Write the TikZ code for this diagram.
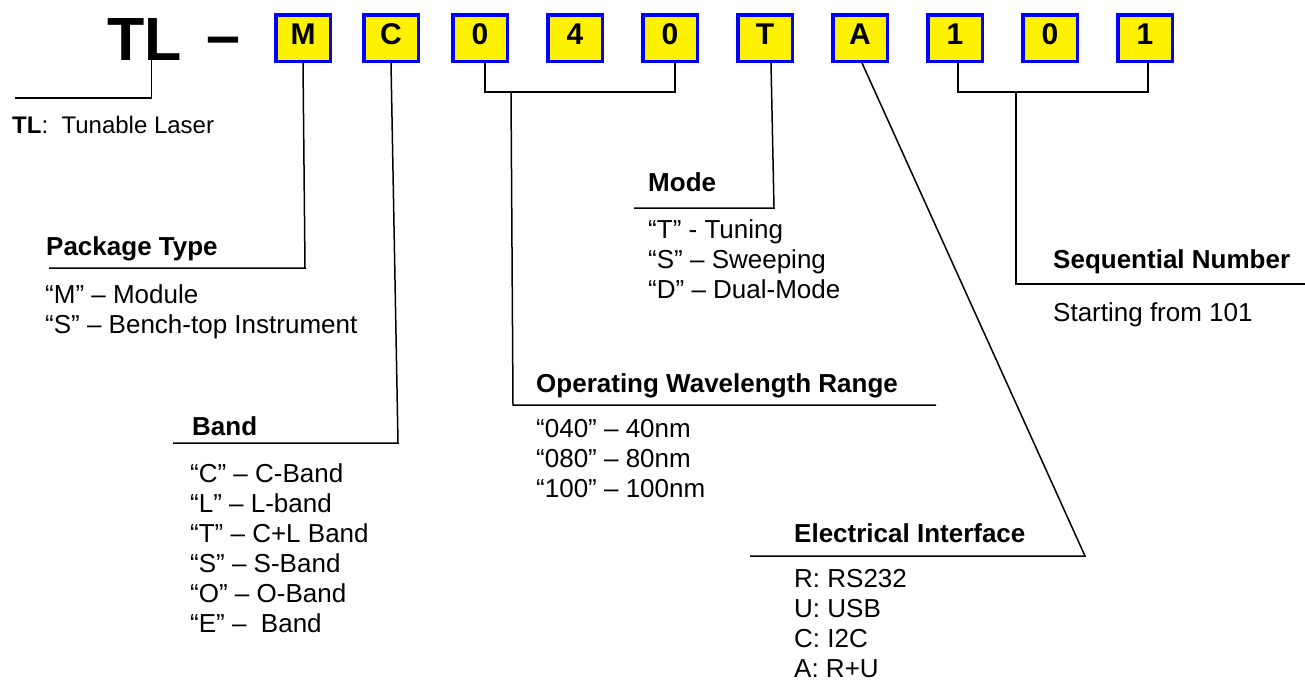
\documentclass[tikz,border=0pt]{standalone}
\usepackage{fontspec}
\setmainfont{Liberation Sans}
\usepackage{tikz}
\usetikzlibrary{positioning,calc}

\begin{document}
\begin{tikzpicture}[
    x=1pt, y=-1pt,
    big/.style={anchor=base west, inner sep=0pt, font=\fontsize{61}{70}\selectfont\bfseries},
    code/.style={draw=blue, fill=yellow, line width=3.5pt, minimum width=54.5pt, minimum height=46.5pt,
                 inner sep=0pt, text height=22pt, text depth=10pt, font=\fontsize{30}{36}\selectfont\bfseries},
    wire/.style={line width=1.5pt},
    head/.style={anchor=base west, inner sep=0pt, font=\fontsize{26}{30}\selectfont\bfseries},
    items/.style={anchor=north west, inner sep=0pt, align=left, font=\fontsize{26}{30}\selectfont}
]
\useasboundingbox (0,0) rectangle (1305,683);

% --- Part number ---
\node[big] (tl) at (107,60) {TL};
\node[big] (dash) at (206,56) {–};

\node[code] (pkg)  at (303,38)  {M};
\node[code] (band) at (391,38)  {C};
\node[code] (wl1)  at (480,38)  {0};
\node[code] (wl2)  at (575,38)  {4};
\node[code] (wl3)  at (670,38)  {0};
\node[code] (mode) at (765,38)  {T};
\node[code] (intf) at (860,38)  {A};
\node[code] (sn1)  at (955,38)  {1};
\node[code] (sn2)  at (1050,38) {0};
\node[code] (sn3)  at (1145,38) {1};

% --- Descriptions ---
\node[anchor=base west, inner sep=0pt, font=\fontsize{24}{28}\selectfont] (tltxt) at (12,133) {\textbf{TL}:\ \ Tunable Laser};

\node[head] (pkghead) at (46,255) {Package Type};
\node[items] (pkglist) at (45,284) {“M” – Module\\“S” – Bench-top Instrument};

\node[head] (bandhead) at (192,435) {Band};
\node[items] (bandlist) at (190,463) {“C” – C-Band\\“L” – L-band\\“T” – C+L Band\\“S” – S-Band\\“O” – O-Band\\“E” – \ Band};

\node[head] (wlhead) at (536,392) {Operating Wavelength Range};
\node[items] (wllist) at (536,419) {“040” – 40nm\\“080” – 80nm\\“100” – 100nm};

\node[head] (modehead) at (648,191) {Mode};
\node[items] (modelist) at (648,219) {“T” - Tuning\\“S” – Sweeping\\“D” – Dual-Mode};

\node[head] (intfhead) at (794,542) {Electrical Interface};
\node[items] (intflist) at (794,569) {R: RS232\\U: USB\\C: I2C\\A: R+U};

\node[head] (snhead) at (1053,268) {Sequential Number};
\node[items] (snlist) at (1053,302) {Starting from 101};

% --- Leader lines ---
\coordinate (tlend) at (15,98);
\draw[wire] ([xshift=7pt]tl.south) |- (tlend);

\coordinate (pkgcorner) at (305,268);
\coordinate (pkgend) at (49,268);
\draw[wire] (pkg.south) -- (pkgcorner) -- (pkgend);

\coordinate (bandcorner) at (398,443);
\coordinate (bandend) at (173,443);
\draw[wire] (band.south) -- (bandcorner) -- (bandend);

\coordinate (wlbar) at (511,92);
\coordinate (wlcorner) at (513,405);
\coordinate (wlend) at (936,405);
\draw[wire] ([xshift=5pt]wl1.south) |- (wlbar) -| ([xshift=5pt]wl3.south);
\draw[wire] (wlbar) -- (wlcorner) -- (wlend);

\coordinate (modecorner) at (774,208);
\coordinate (modeend) at (634,208);
\draw[wire] ([xshift=6pt]mode.south) -- (modecorner) -- (modeend);

\coordinate (intfcorner) at (1085,556);
\coordinate (intfend) at (750,556);
\draw[wire] ([xshift=2pt]intf.south) -- (intfcorner) -- (intfend);

\coordinate (snbar) at (1016,92);
\coordinate (snend) at (1305,284);
\draw[wire] ([xshift=3pt]sn1.south) |- (snbar) -| ([xshift=3pt]sn3.south);
\draw[wire] (snbar) |- (snend);

\end{tikzpicture}
\end{document}
